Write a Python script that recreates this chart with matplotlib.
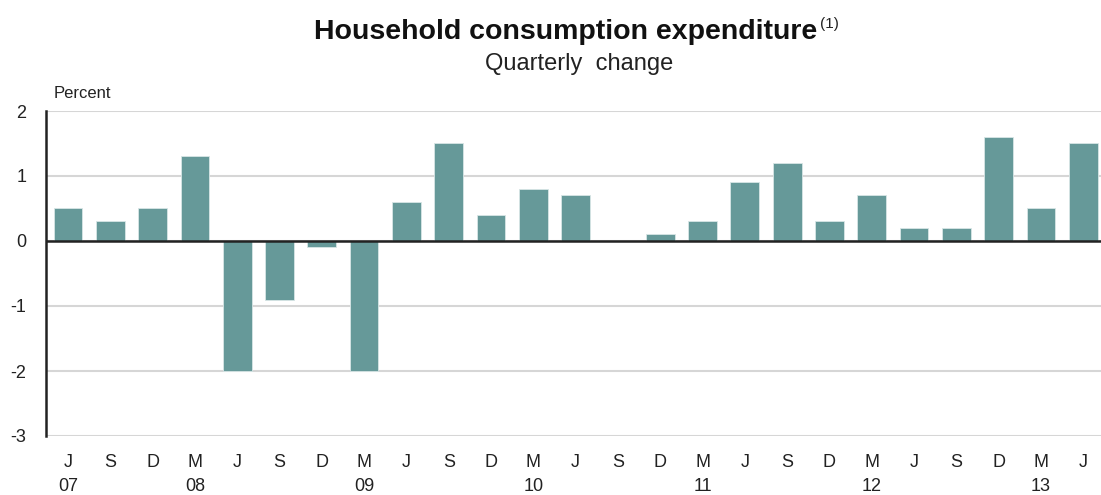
import matplotlib
matplotlib.use("Agg")
import matplotlib.pyplot as plt

# quarterly change in household consumption expenditure, J 07 .. J 13
months = ["J", "S", "D", "M", "J", "S", "D", "M", "J", "S", "D", "M", "J",
          "S", "D", "M", "J", "S", "D", "M", "J", "S", "D", "M", "J"]
years = ["07", "", "", "08", "", "", "", "09", "", "", "", "10", "",
         "", "", "11", "", "", "", "12", "", "", "", "13", ""]
values = [0.5, 0.3, 0.5, 1.3, -2.0, -0.9, -0.1, -2.0, 0.6, 1.5, 0.4, 0.8, 0.7,
          0.0, 0.1, 0.3, 0.9, 1.2, 0.3, 0.7, 0.2, 0.2, 1.6, 0.5, 1.5]
yticks = [2, 1, 0, -1, -2, -3]

plt.rcParams["font.family"] = ["Liberation Sans", "DejaVu Sans"]

fig = plt.figure(figsize=(11.01, 4.95), dpi=100)
ax = fig.add_axes([46/1101, 1 - 436/495, 1 - 46/1101, (436 - 111)/495])

x = list(range(len(values)))
ax.bar(x, values, width=0.68, color="#669999", edgecolor="#d8e6e6", linewidth=0.6, zorder=3)

for t in yticks:
    ax.axhline(t, color="#d6d6d6", lw=1.5, zorder=1)
ax.axhline(0, color="#222222", lw=1.8, zorder=4)

ax.set_ylim(-3, 2)
ax.set_xlim(-0.52, 24.42)
ax.set_yticks(yticks)
ax.set_yticklabels([str(t) for t in yticks], fontsize=13)
ax.set_xticks(x)
ax.set_xticklabels([m if not y else f"{m}\n{y}" for m, y in zip(months, years)],
                   fontsize=13, va="top", linespacing=1.55)
ax.tick_params(axis="both", length=0, colors="#222222")
ax.tick_params(axis="y", pad=14)
ax.tick_params(axis="x", pad=13)

for s in ["top", "right", "bottom"]:
    ax.spines[s].set_visible(False)
ax.spines["left"].set_color("#222222")
ax.spines["left"].set_linewidth(1.8)
ax.spines["left"].set_zorder(5)

fig.text(54/1101, 1 - 93/495, "Percent", fontsize=12, va="center", ha="left", color="#222222")

title = fig.text(566/1101, 1 - 32/495, "Household consumption expenditure",
                 fontsize=20.5, fontweight="bold", ha="center", va="center", color="#111111")
fig.text(579/1101, 1 - 64/495, "Quarterly  change", fontsize=17, ha="center", va="center",
         color="#222222")

fig.canvas.draw()
bb = title.get_window_extent()
fig.text((bb.x1 + 2) / 1101, (bb.y1 + 2) / 495, "(1)", fontsize=11, ha="left", va="top",
         color="#222222")

plt.savefig("out.png", dpi=100)
